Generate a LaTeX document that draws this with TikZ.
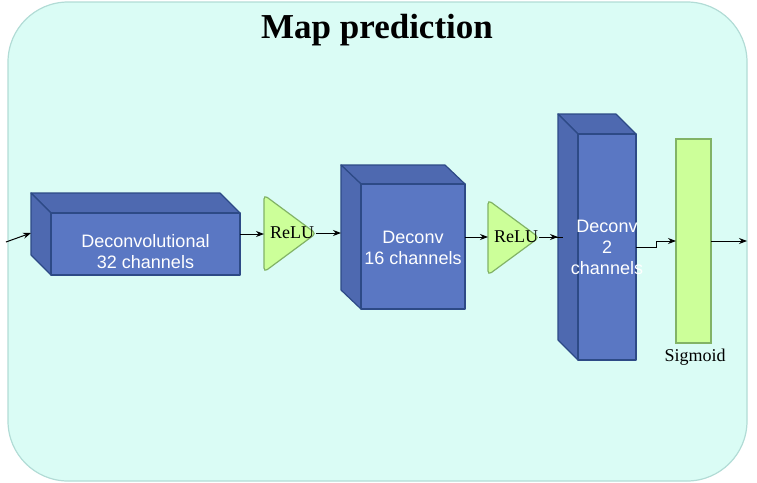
\documentclass[tikz,border=0pt]{standalone}
\usepackage{fontspec}
\setmainfont{Liberation Serif}
\setsansfont{Liberation Sans}
\usetikzlibrary{arrows.meta}
\definecolor{bgfill}{HTML}{DAFCF5}
\definecolor{bgline}{HTML}{B2DCD6}
\definecolor{front}{HTML}{5A77C3}
\definecolor{side}{HTML}{4E69B0}
\definecolor{cubeline}{HTML}{2D4A86}
\definecolor{gfill}{HTML}{CCFF99}
\definecolor{gline}{HTML}{82B366}
\tikzset{
  face/.style={draw=cubeline, line width=1.2pt, line join=round},
  frontface/.style={face, fill=front},
  sideface/.style={face, fill=side},
  boxtext/.style={text=white, font=\sffamily\fontsize{18}{21}\selectfont, align=center},
  relubox/.style={draw=gline, fill=gfill, line width=1.2pt, rounded corners=4pt},
  serlabel/.style={font=\fontsize{18}{21}\selectfont, inner sep=0pt},
  conn/.style={-{Stealth[length=8pt,width=6pt]}, line width=1pt},
}
\begin{document}
\begin{tikzpicture}[x=1pt,y=-1pt]
\useasboundingbox (0,0) rectangle (757,482);
% container
\draw[bgline, fill=bgfill, line width=1.2pt, rounded corners=60pt] (8,2) rectangle (747,481);
\node[font=\bfseries\fontsize{35}{40}\selectfont] (title) at (377,30) {Map prediction};

% cube 1
\draw[sideface] (31,193) -- (220,193) -- (240,213) -- (51,213) -- cycle;
\draw[sideface] (31,193) -- (51,213) -- (51,275) -- (31,255) -- cycle;
\draw[frontface] (51,213) rectangle (240,275);
\node[boxtext] (c1) at (145.5,251.5) {Deconvolutional\\32 channels};
\coordinate (c1w) at (31,233);
\coordinate (c1e) at (240,234);

% relu 1
\draw[relubox] (264,195) -- (316,233.5) -- (264,272) -- cycle;
\node[serlabel] (r1) at (292,233) {ReLU};
\coordinate (r1w) at (264,234);
\coordinate (r1e) at (316,233);

% cube 2
\draw[sideface] (341,165) -- (445,165) -- (465,184) -- (361,184) -- cycle;
\draw[sideface] (341,165) -- (361,184) -- (361,309) -- (341,290) -- cycle;
\draw[frontface] (361,184) rectangle (465,309);
\node[boxtext] (c2) at (413,247.5) {Deconv\\16 channels};
\coordinate (c2w) at (341,233);
\coordinate (c2e) at (465,237);

% relu 2
\draw[relubox] (488,200) -- (539,237.5) -- (488,275) -- cycle;
\node[serlabel] (r2) at (516,237) {ReLU};
\coordinate (r2w) at (488,237);
\coordinate (r2e) at (539,237);

% cube 3
\draw[sideface] (558,114) -- (616,114) -- (636,134) -- (578,134) -- cycle;
\draw[sideface] (558,114) -- (578,134) -- (578,360) -- (558,340) -- cycle;
\draw[frontface] (578,134) rectangle (636,360);
\node[boxtext] (c3) at (607,247) {Deconv\\2\\channels};
\coordinate (c3w) at (558,237);
\coordinate (c3wx) at (563,237);
\coordinate (c3e) at (636,247);

% sigmoid
\draw[draw=gline, fill=gfill, line width=1.2pt] (676,139) rectangle (711,343);
\node[serlabel] (sg) at (695,357) {Sigmoid};
\coordinate (sgw) at (676,241);
\coordinate (sge) at (711,241);
\coordinate (out) at (747,241);
\coordinate (in) at (6,242);

% connectors
\draw[conn] (in) -- (c1w);
\draw[conn] (c1e) -- (r1w);
\draw[conn] (r1e) -- (c2w);
\draw[conn] (c2e) -- (r2w);
\draw[line width=1pt] (r2e) -- (c3wx);
\draw[conn] (r2e) -- (c3w);
\draw[conn] (c3e) -- (656,247) -- (656,241) -- (sgw);
\draw[conn] (sge) -- (out);
\end{tikzpicture}
\end{document}
